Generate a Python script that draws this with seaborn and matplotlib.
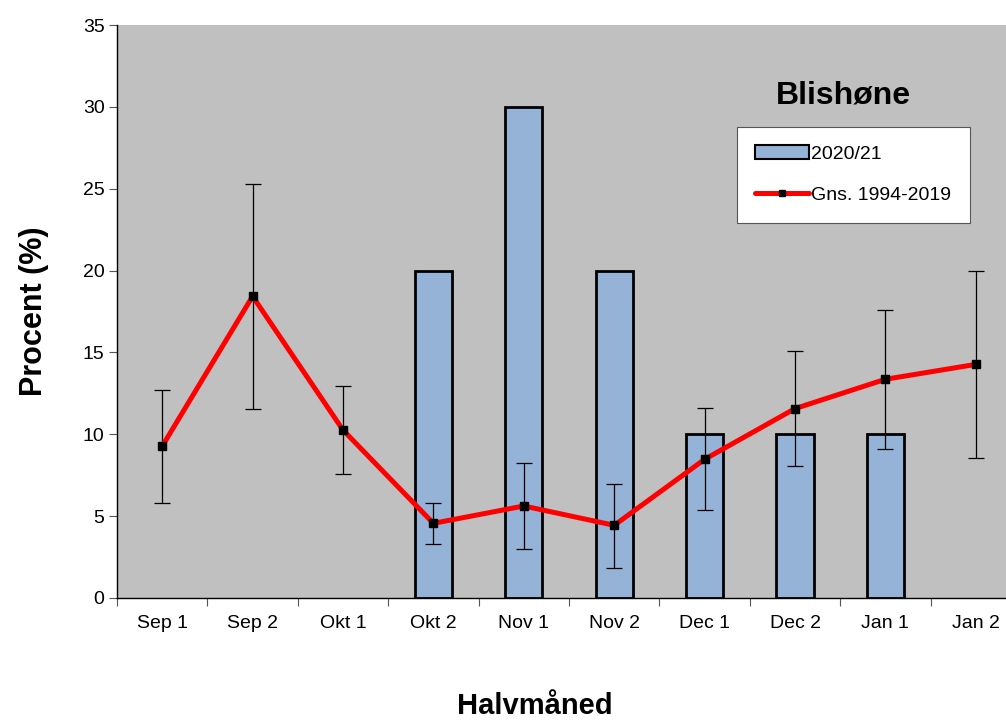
import matplotlib

matplotlib.use("Agg")
import matplotlib.pyplot as plt
import pandas as pd
import seaborn as sns
from matplotlib.lines import Line2D
from matplotlib.patches import Patch

# data
halvmaaned = ["Sep 1", "Sep 2", "Okt 1", "Okt 2", "Nov 1",
              "Nov 2", "Dec 1", "Dec 2", "Jan 1", "Jan 2"]
saeson_2020 = [None, None, None, 20, 30, 20, 10, 10, 10, None]
gns_1994_2019 = [9.27, 18.43, 10.26, 4.56, 5.62, 4.44, 8.47, 11.57, 13.36, 14.27]
fejl_top = [12.69, 25.27, 12.97, 5.8, 8.23, 6.98, 11.59, 15.07, 17.57, 19.97]
fejl_bund = [5.82, 11.53, 7.56, 3.28, 2.97, 1.85, 5.36, 8.04, 9.12, 8.55]

sns.set_style("white")
plt.rcParams["font.family"] = ["Liberation Sans", "DejaVu Sans"]
plt.rcParams["text.color"] = "black"
plt.rcParams["axes.labelcolor"] = "black"
plt.rcParams["xtick.color"] = "black"
plt.rcParams["ytick.color"] = "black"

df = pd.DataFrame({"halvmaaned": halvmaaned, "procent": saeson_2020})

fig = plt.figure(figsize=(10.06, 7.27), dpi=100)
ax = fig.add_axes([117 / 1006, 129 / 727, 904 / 1006, 573 / 727])
ax.set_facecolor("#c0c0c0")

sns.barplot(data=df, x="halvmaaned", y="procent", order=halvmaaned,
            color="#95b3d7", edgecolor="black", linewidth=2, width=0.41,
            saturation=1, ax=ax, zorder=2)

pos = list(range(len(halvmaaned)))
yerr = [[m - b for m, b in zip(gns_1994_2019, fejl_bund)],
        [t - m for m, t in zip(gns_1994_2019, fejl_top)]]
ax.errorbar(pos, gns_1994_2019, yerr=yerr, fmt="none", ecolor="black",
            elinewidth=0.9, capsize=6, capthick=0.9, zorder=3)
ax.plot(pos, gns_1994_2019, color="red", lw=3.6, marker="s",
        markersize=5.5, markerfacecolor="black", markeredgecolor="black",
        zorder=4)

ax.set_xlim(-0.5, 9.5)
ax.set_ylim(0, 35)
ax.set_yticks(range(0, 36, 5))
ax.tick_params(axis="y", labelsize=14, length=6, width=0.8, color="#555555",
               labelcolor="black", direction="out", left=True, pad=3)
ax.tick_params(axis="x", which="major", labelsize=14, length=0, pad=12,
               labelcolor="black")
ax.set_xticks([p + 0.5 for p in range(-1, 10)], minor=True)
ax.tick_params(axis="x", which="minor", length=6, width=0.8, color="#555555",
               direction="out", bottom=True)

for s in ["top", "right"]:
    ax.spines[s].set_visible(False)
for s in ["left", "bottom"]:
    ax.spines[s].set_color("black")
    ax.spines[s].set_linewidth(1)

ax.set_ylabel("Procent (%)", fontsize=22, fontweight="bold", labelpad=24)
ax.set_xlabel("Halvmåned", fontsize=21, fontweight="bold", va="top")
ax.xaxis.set_label_coords((535 - 117) / 904, -(692 - 598) / 573)

ax.text((843 - 117) / 904, (598 - 95) / 573, "Blishøne", transform=ax.transAxes,
        fontsize=23, fontweight="bold", ha="center", va="center")

handles = [
    Patch(facecolor="#95b3d7", edgecolor="black", linewidth=1.5, label="2020/21"),
    Line2D([0], [0], color="red", lw=3.6, marker="s", markersize=5,
           markerfacecolor="black", markeredgecolor="black",
           label="Gns. 1994-2019"),
]
leg = ax.legend(handles=handles, loc="upper left",
                bbox_to_anchor=((737 - 117) / 904, (598 - 127) / 573),
                fontsize=14, frameon=True, fancybox=False, framealpha=1,
                edgecolor="#555555", labelspacing=1.2, handlelength=2.75,
                handletextpad=0.12, borderpad=0.95, borderaxespad=0)
leg.get_frame().set_linewidth(0.8)

fig.savefig("out.png", dpi=100, facecolor="white")
